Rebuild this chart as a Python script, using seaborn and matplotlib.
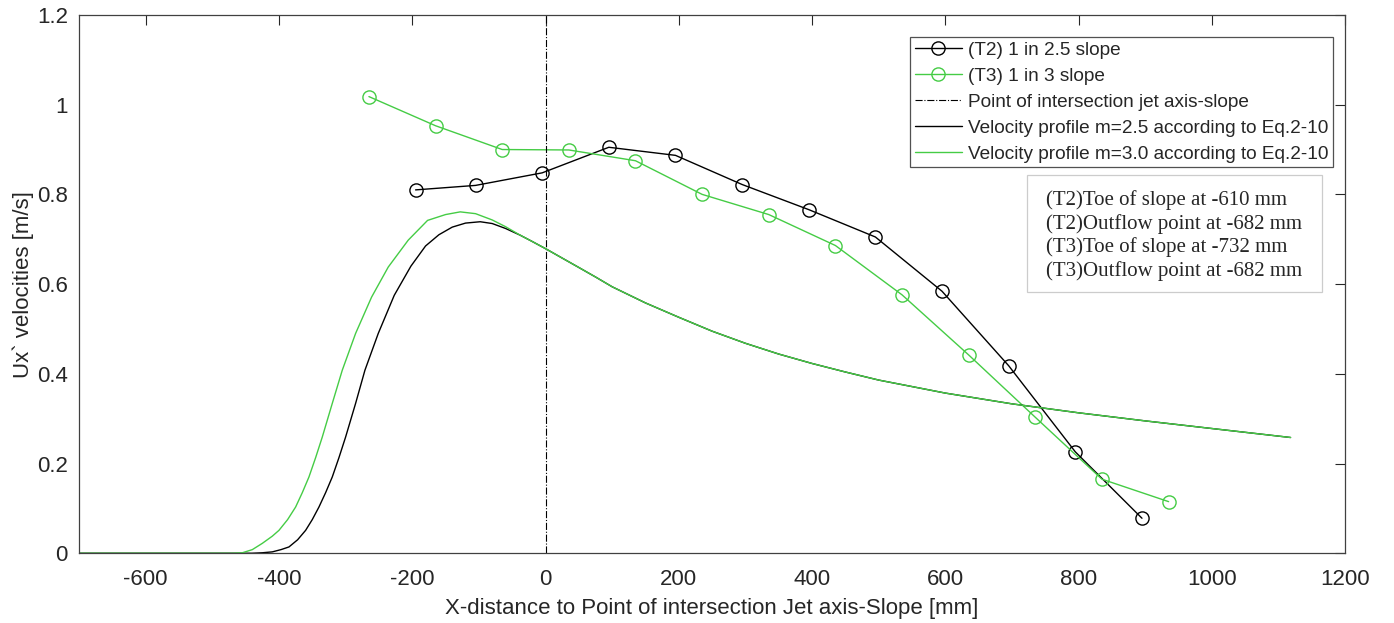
import matplotlib; matplotlib.use('Agg')
import matplotlib.pyplot as plt
from matplotlib.patches import Rectangle
import pandas as pd
import seaborn as sns

# measured velocities
t2_x = [-195, -105, -5, 95, 195, 295, 395, 495, 595, 695, 795, 895]
t2_y = [0.810, 0.820, 0.848, 0.905, 0.887, 0.822, 0.766, 0.705, 0.584, 0.418, 0.226, 0.078]
t3_x = [-265, -165, -65, 35, 135, 235, 335, 435, 535, 635, 735, 835, 935]
t3_y = [1.018, 0.953, 0.900, 0.899, 0.875, 0.800, 0.755, 0.686, 0.576, 0.442, 0.303, 0.165, 0.115]

# Eq.2-10 profiles (both share the decay branch)
decay_x = [-38, -20, 0, 25, 50, 76, 100, 150, 200, 250, 300, 350, 400, 450, 500, 600, 700, 800, 900, 1000, 1118]
decay_y = [0.709, 0.695, 0.679, 0.658, 0.637, 0.615, 0.594, 0.558, 0.526, 0.495, 0.468, 0.444, 0.423, 0.404,
           0.386, 0.357, 0.333, 0.313, 0.295, 0.278, 0.258]
m25_x = [-700, -440, -425, -410, -397, -385, -372, -360, -350, -340, -330, -320, -310, -300, -285, -271,
         -251, -227, -202, -180, -160, -140, -120, -98, -80, -60]
m25_y = [0.0, 0.0, 0.001, 0.003, 0.008, 0.014, 0.030, 0.051, 0.075, 0.103, 0.135, 0.170, 0.213, 0.259, 0.334,
         0.408, 0.490, 0.575, 0.640, 0.685, 0.710, 0.727, 0.736, 0.739, 0.735, 0.724]
m30_x = [-700, -470, -455, -440, -425, -410, -400, -387, -375, -365, -355, -345, -335, -320, -305, -285,
         -261, -236, -206, -177, -150, -128, -105, -80, -60]
m30_y = [0.0, 0.0, 0.001, 0.008, 0.022, 0.038, 0.051, 0.075, 0.103, 0.135, 0.170, 0.213, 0.259, 0.334, 0.408,
         0.490, 0.571, 0.638, 0.698, 0.742, 0.755, 0.761, 0.757, 0.743, 0.728]

notes = ["(T2)Toe of slope at -610 mm", "(T2)Outflow point at -682 mm",
         "(T3)Toe of slope at -732 mm", "(T3)Outflow point at -682 mm"]

GREEN = '#45cc45'
sns.set_style('white')
plt.rcParams['font.family'] = ['Liberation Sans', 'DejaVu Sans']
plt.rcParams['axes.unicode_minus'] = False
plt.rcParams['text.color'] = '#262626'
plt.rcParams['xtick.color'] = '#262626'
plt.rcParams['ytick.color'] = '#262626'

fig = plt.figure(figsize=(13.94, 6.23), dpi=100)
ax = fig.add_axes([0.0567, 0.112, 0.9083, 0.864])

t2 = pd.DataFrame({'x': t2_x, 'y': t2_y})
t3 = pd.DataFrame({'x': t3_x, 'y': t3_y})
c25 = pd.DataFrame({'x': m25_x + decay_x, 'y': m25_y + decay_y})
c30 = pd.DataFrame({'x': m30_x + decay_x, 'y': m30_y + decay_y})

sns.lineplot(data=t2, x='x', y='y', ax=ax, color='black', lw=1, marker='o', ms=9.5,
             mfc='none', mec='black', mew=1, sort=False, label='(T2) 1 in 2.5 slope')
sns.lineplot(data=t3, x='x', y='y', ax=ax, color=GREEN, lw=1, marker='o', ms=9.5,
             mfc='none', mec=GREEN, mew=1, sort=False, label='(T3) 1 in 3 slope')
ax.axvline(0, color='black', lw=0.8, ls='-.', label='Point of intersection jet axis-slope')
sns.lineplot(data=c25, x='x', y='y', ax=ax, color='black', lw=1, sort=False,
             label='Velocity profile m=2.5 according to Eq.2-10')
sns.lineplot(data=c30, x='x', y='y', ax=ax, color=GREEN, lw=1, sort=False,
             label='Velocity profile m=3.0 according to Eq.2-10')

ax.set_xlim(-700, 1200)
ax.set_ylim(0, 1.2)
ax.set_xticks(range(-600, 1201, 200))
ax.set_yticks([0, 0.2, 0.4, 0.6, 0.8, 1.0, 1.2])
ax.set_yticklabels(['0', '0.2', '0.4', '0.6', '0.8', '1', '1.2'])
ax.tick_params(direction='in', length=7, width=0.8, labelsize=16, top=True, right=True)
ax.tick_params(axis='x', pad=11)
ax.tick_params(axis='y', pad=8)
for s in ax.spines.values():
    s.set_color('#404040'); s.set_linewidth(0.9)
ax.set_xlabel('X-distance to Point of intersection Jet axis-Slope [mm]', fontsize=16, labelpad=6)
ax.set_ylabel('Ux` velocities [m/s]', fontsize=16, labelpad=2)

leg = ax.legend(loc='upper right', bbox_to_anchor=(0.9905, 0.959), fontsize=13.7, frameon=True,
                fancybox=False, handlelength=2.5, handletextpad=0.3, borderpad=0.25,
                labelspacing=0.45, borderaxespad=0)
leg.get_frame().set_edgecolor('#262626'); leg.get_frame().set_linewidth(0.9)

ax.add_patch(Rectangle((0.749, 0.485), 0.233, 0.218, transform=ax.transAxes, fc='white',
                       ec='#cccccc', lw=0.9, zorder=5))
ax.text(0.764, 0.674, "\n".join(notes), transform=ax.transAxes, ha='left', va='top', zorder=6,
        fontsize=15, family=['Liberation Serif', 'DejaVu Serif'], linespacing=1.24)

fig.savefig('out.png', dpi=100)
